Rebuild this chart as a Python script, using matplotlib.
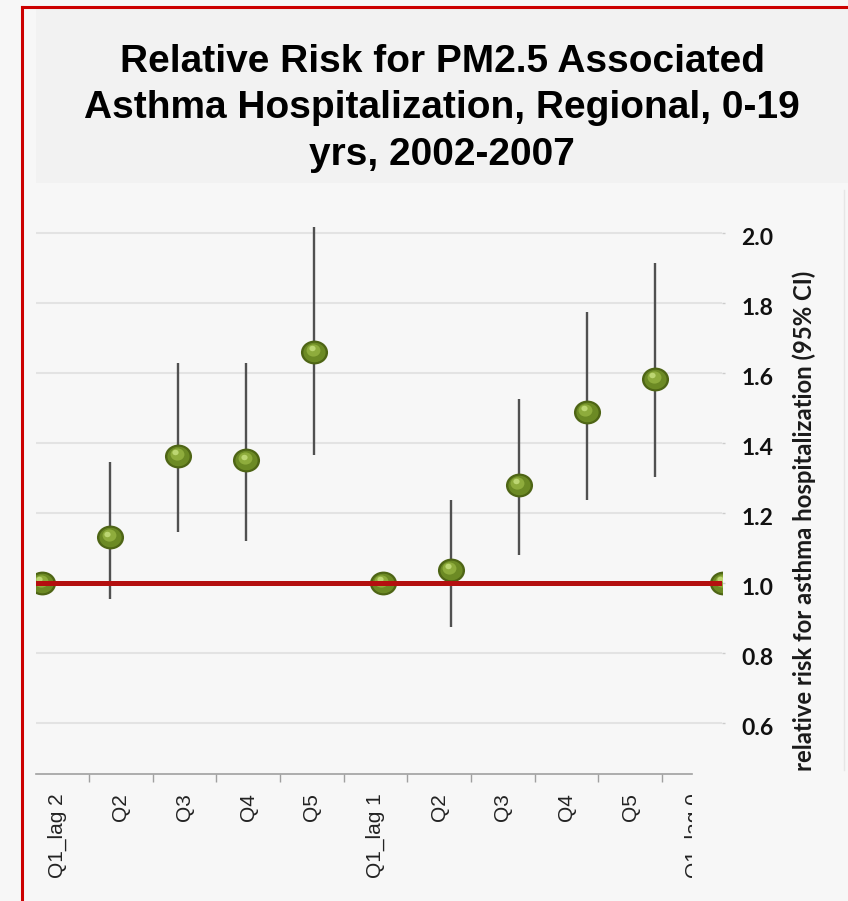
import matplotlib
matplotlib.use('Agg')
from matplotlib import pyplot as plt
from matplotlib.path import Path
from matplotlib.markers import MarkerStyle
from matplotlib.transforms import Affine2D, ScaledTranslation, Bbox
from matplotlib.lines import Line2D
from matplotlib.patches import Rectangle
import numpy as np

# data
categories = ["Q1_lag 2", "Q2", "Q3", "Q4", "Q5",
              "Q1_lag 1", "Q2", "Q3", "Q4", "Q5", "Q1_lag 0"]
rr = [1.00, 1.13, 1.363, 1.351, 1.66,
      1.00, 1.037, 1.28, 1.489, 1.583, 1.00]
ci_low = [1.00, 0.955, 1.146, 1.12, 1.366,
          1.00, 0.874, 1.08, 1.237, 1.303, 1.00]
ci_high = [1.00, 1.346, 1.629, 1.629, 2.017,
           1.00, 1.237, 1.526, 1.774, 1.914, 1.00]
y_ticks = [0.6, 0.8, 1.0, 1.2, 1.4, 1.6, 1.8, 2.0]
title_lines = ["Relative Risk for PM2.5 Associated",
               "Asthma Hospitalization, Regional, 0-19",
               "yrs, 2002-2007"]
y_label = "relative risk for asthma hospitalization (95% CI)"
reference = 1.0

W, H = 848, 901
DPI = 100
BG = '#f7f7f7'


def px(x0, y0, x1, y1):
    # pixel box (top-left origin) -> figure fraction rect
    return [x0 / W, 1 - y1 / H, (x1 - x0) / W, (y1 - y0) / H]


fig = plt.figure(figsize=(W / DPI, H / DPI), dpi=DPI, facecolor=BG)

# title box + red frame
fig.patches.append(Rectangle((36 / W, 1 - 183 / H), 1 - 36 / W, (183 - 9) / H,
                             transform=fig.transFigure, facecolor='#f2f2f2',
                             edgecolor='none', zorder=0))
fig.lines.append(Line2D([21.5 / W, 21.5 / W], [0, 1 - 7 / H], transform=fig.transFigure,
                        color='#cc0000', lw=2.2, zorder=5))
fig.lines.append(Line2D([21.5 / W, 1], [1 - 7 / H, 1 - 7 / H], transform=fig.transFigure,
                        color='#cc0000', lw=2.2, zorder=5))
# faint edge of the pasted chart on the right
fig.lines.append(Line2D([843.5 / W, 843.5 / W], [1 - 770 / H, 1 - 190 / H],
                        transform=fig.transFigure, color='#e6e6e6', lw=1, zorder=1))

for i, line in enumerate(title_lines):
    fig.text(442 / W, 1 - (72 + 46.5 * i) / H, line, ha='center', va='baseline',
             fontsize=28, fontweight='bold', family='Liberation Sans', color='black')

# main plot (points, grid, reference line, right y axis)
ax = fig.add_axes(px(36, 185, 722, 774))
ax.set_facecolor(BG)
x = np.arange(len(rr))
ax.set_xlim(-6 / 68.1, (722 - 42) / 68.1)
ax.set_ylim(0.454, 2.137)

for s in ax.spines.values():
    s.set_visible(False)
ax.set_xticks([])
ax.yaxis.tick_right()
ax.set_yticks(y_ticks)
ax.set_yticklabels(['%.1f' % v for v in y_ticks])
ax.tick_params(axis='y', length=2, width=1, color='#cccccc', pad=12,
               labelsize=16.5, labelcolor='#111111')
for lbl in ax.get_yticklabels():
    lbl.set_family('Lato')
    lbl.set_fontweight('bold')
    lbl.set_transform(lbl.get_transform() + ScaledTranslation(0, -4 / 100, fig.dpi_scale_trans))
ax.grid(axis='y', color='#e3e3e3', lw=1.5)
ax.set_axisbelow(True)

# confidence intervals
ax.vlines(x, ci_low, ci_high, color='#505050', lw=1.7, zorder=2)

# sphere-like markers
ell = Path.unit_circle().transformed(Affine2D().scale(1.0, 0.88))
mk = MarkerStyle(ell)
ax.plot(x, rr, ls='none', marker=mk, ms=19.5, mfc='#4e6515', mec='none', zorder=3)
ax.plot(x, rr, ls='none', marker=mk, ms=16, mfc='#6c8a24', mec='none', zorder=3)
ax.plot(x, rr, ls='none', marker=mk, ms=10, mfc='#8eac3c', mec='none', zorder=3,
        transform=ax.transData + ScaledTranslation(-1.0 / 72, 1.5 / 72, fig.dpi_scale_trans))
ax.plot(x, rr, ls='none', marker=mk, ms=4.5, mfc='#bcd672', mec='none', zorder=3,
        transform=ax.transData + ScaledTranslation(-2.0 / 72, 2.5 / 72, fig.dpi_scale_trans))

# reference line
ax.axhline(reference, color='#b40f0f', lw=3.6, zorder=4)

fig.text(804 / W, 1 - 521 / H, y_label, rotation=90, ha='center', va='center',
         fontsize=17.2, fontweight='bold', family='Lato', color='#1a1a1a')

# category axis (scaled a little differently in the source picture)
ax2 = fig.add_axes(px(36, 773, 36 + 63.7 * (10.6 + 0.33), 774))
ax2.patch.set_visible(False)
ax2.set_xlim(-0.33, 10.6)
ax2.set_ylim(0, 1)
for k in ['top', 'left', 'right']:
    ax2.spines[k].set_visible(False)
ax2.spines['bottom'].set_color('#a0a0a0')
ax2.spines['bottom'].set_linewidth(1.2)
ax2.spines['bottom'].set_bounds(-0.33, 9.97)
ax2.set_yticks([])
ax2.set_xticks(np.arange(len(categories)))
ax2.set_xticklabels(categories)
ax2.set_xticks(np.arange(len(categories) - 1) + 0.5, minor=True)
ax2.tick_params(axis='x', which='major', length=0, pad=14, labelrotation=90,
                labelsize=15, labelcolor='#222222')
ax2.tick_params(axis='x', which='minor', length=6, width=1, color='#a0a0a0')
clip = Bbox.from_extents(0, 0, 692, H)
for lbl in ax2.get_xticklabels():
    lbl.set_family('Liberation Sans')
    lbl.set_clip_box(clip)
    lbl.set_clip_on(True)

fig.savefig('out.png', dpi=DPI, facecolor=BG)
